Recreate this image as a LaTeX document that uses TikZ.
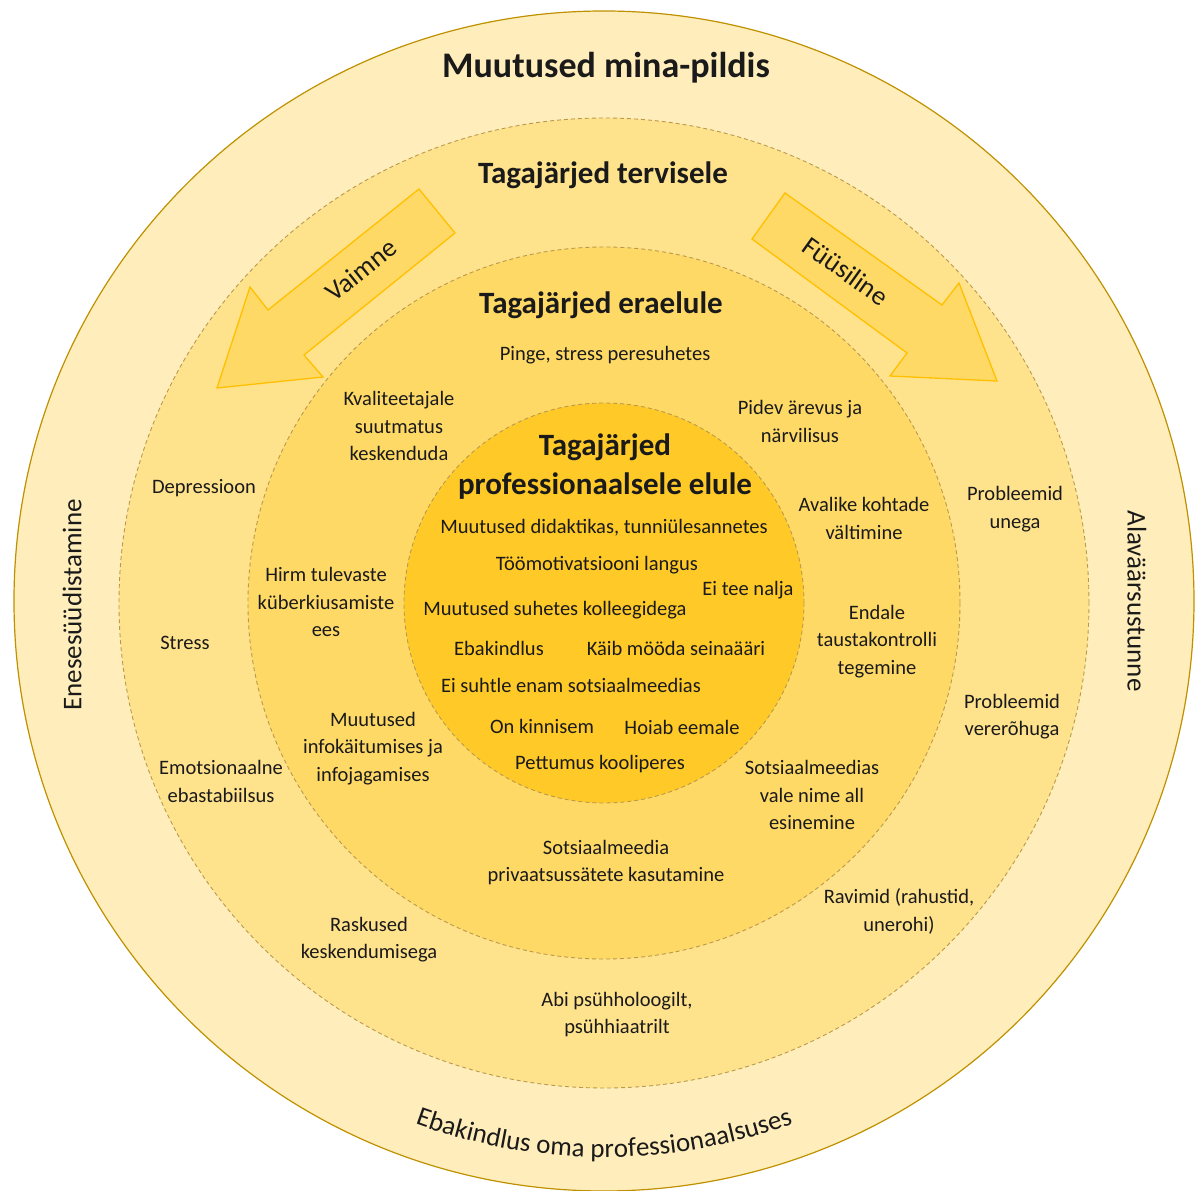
\documentclass[tikz,border=0pt]{standalone}
\usepackage{fontspec}
\setmainfont{Carlito}
\usetikzlibrary{decorations.text}

\definecolor{ringout}{HTML}{FFEEBB}
\definecolor{ringtwo}{HTML}{FFE28C}
\definecolor{ringthree}{HTML}{FFD966}
\definecolor{ringin}{HTML}{FFC928}
\definecolor{rimline}{HTML}{BF9000}
\definecolor{dashline}{HTML}{B89A4E}
\definecolor{arrowline}{HTML}{FFC000}
\definecolor{ink}{HTML}{1A1A1A}

\begin{document}
\begin{tikzpicture}[x=1pt, y=1pt, text=ink]
    \tikzstyle{ring} = [draw=dashline, line width=0.9pt, dash pattern=on 4pt off 3pt]
    \tikzstyle{item} = [align=center, inner sep=0pt, font=\fontsize{20.5}{27.5}\selectfont]
    \tikzstyle{heading} = [align=center, inner sep=0pt, font=\bfseries\fontsize{31}{39}\selectfont]
    \tikzstyle{sideword} = [inner sep=0pt, font=\fontsize{27}{30}\selectfont]
    \tikzstyle{blockarrow} = [fill=ringthree, draw=arrowline, line width=1.3pt]

    \useasboundingbox (-604,-588) rectangle (591,603);

    % Ringid
    \filldraw[fill=ringout, draw=rimline, line width=1.2pt] (0,2) circle (590);
    \filldraw[ring, fill=ringtwo] (0,0) circle (485);
    \filldraw[ring, fill=ringthree] (0,0) circle (356);
    \filldraw[ring, fill=ringin] (0,0) circle (200);

    % Nooled
    \draw[blockarrow] (-185,414) -- (-149,370) -- (-300,248) -- (-281,226) -- (-387,215) -- (-354,316) -- (-336,293) -- cycle;
    \draw[blockarrow] (181,410) -- (338,298) -- (355,320) -- (393,222) -- (286,227) -- (303,250) -- (148,364) -- cycle;
    \node[sideword, rotate=38.7] (vaimne) at (-243,333) {Vaimne};
    \node[sideword, rotate=-35.5] (fyysiline) at (242,332) {Füüsiline};

    % Pealkirjad
    \node[heading, font=\bfseries\fontsize{36}{40}\selectfont] (mina) at (2,535) {Muutused mina-pildis};
    \node[heading] (tervis) at (-1,428) {Tagajärjed tervisele};
    \node[heading] (erael) at (-3,298) {Tagajärjed eraelule};
    \node[heading] (prof) at (1,136.5) {Tagajärjed\\professionaalsele elule};

    % Professionaalne elu
    \node[item] (didakt) at (0,75) {Muutused didaktikas, tunniülesannetes};
    \node[item] (motiv) at (-7,38) {Töömotivatsiooni langus};
    \node[item] (nalja) at (144,13) {Ei tee nalja};
    \node[item] (kolleeg) at (-49,-7) {Muutused suhetes kolleegidega};
    \node[item] (ebakindel) at (-105,-45) {Ebakindlus};
    \node[item] (sein) at (72,-45) {Käib mööda seinaääri};
    \node[item] (suhtle) at (-33,-82) {Ei suhtle enam sotsiaalmeedias};
    \node[item] (kinnine) at (-62,-123) {On kinnisem};
    \node[item] (eemal) at (78,-124) {Hoiab eemale};
    \node[item] (pettum) at (-4,-161) {Pettumus kooliperes};

    % Eraelu
    \node[item] (pinge) at (1,248) {Pinge, stress peresuhetes};
    \node[item] (kvalit) at (-205,177) {Kvaliteetajale\\suutmatus\\keskenduda};
    \node[item] (arevus) at (196,181.5) {Pidev ärevus ja\\närvilisus};
    \node[item] (avalik) at (260,84.5) {Avalike kohtade\\vältimine};
    \node[item] (tausta) at (273,-38.5) {Endale\\taustakontrolli\\tegemine};
    \node[item] (hirm) at (-278,1) {Hirm tulevaste\\küberkiusamiste\\ees};
    \node[item] (info) at (-231,-145.5) {Muutused\\infokäitumises ja\\infojagamises};
    \node[item] (valenimi) at (208,-192) {Sotsiaalmeedias\\vale nime all\\esinemine};
    \node[item] (privaat) at (2,-259.5) {Sotsiaalmeedia\\privaatsussätete kasutamine};

    % Tervis
    \node[item] (depr) at (-400,115) {Depressioon};
    \node[item] (stress) at (-419,-40) {Stress};
    \node[item] (emots) at (-383,-178.5) {Emotsionaalne\\ebastabiilsus};
    \node[item] (raskus) at (-235,-336.5) {Raskused\\keskendumisega};
    \node[item] (abi) at (13,-411.5) {Abi psühholoogilt,\\psühhiaatrilt};
    \node[item] (ravim) at (295,-308.5) {Ravimid (rahustid,\\unerohi)};
    \node[item] (vererohk) at (408,-113.5) {Probleemid\\vererõhuga};
    \node[item] (uni) at (411,94) {Probleemid\\unega};

    % Mina-pilt
    \node[sideword, rotate=90] (syy) at (-532,-2) {Enesesüüdistamine};
    \node[sideword, rotate=-90] (alavaart) at (533,2) {Alaväärsustunne};
    \path[decorate, decoration={text along path, text align=center,
        text={|\fontsize{27}{30}\selectfont\color{ink}|Ebakindlus oma professionaalsuses}}]
        (200:554) arc[start angle=200, end angle=340, radius=554];
\end{tikzpicture}
\end{document}
